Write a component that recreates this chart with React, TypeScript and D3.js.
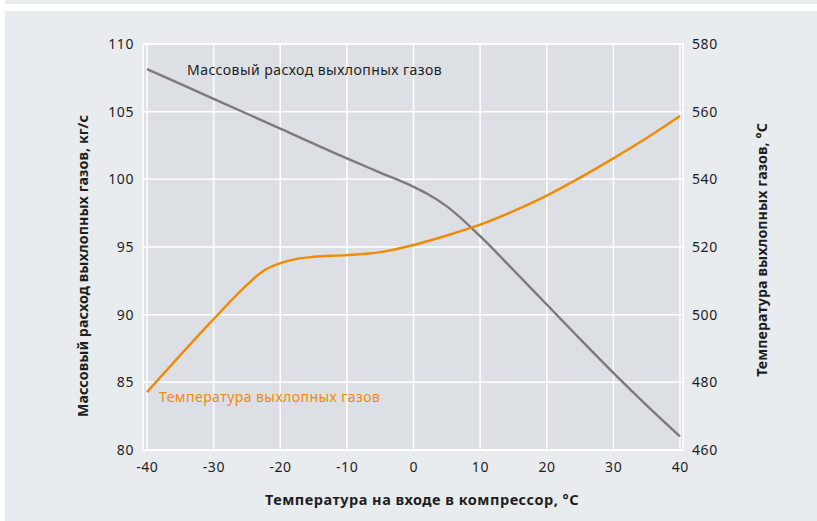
import React from "react";
import * as d3 from "d3";

const xTicks = [-40, -30, -20, -10, 0, 10, 20, 30, 40];
const leftTicks = [80, 85, 90, 95, 100, 105, 110];
const rightTicks = [460, 480, 500, 520, 540, 560, 580];

const massX = [-40, -30, -20, -10, -5, 0, 2, 5, 10, 15, 20, 25, 30, 35, 40];
const massY = [108.15, 105.95, 103.75, 101.55, 100.5, 99.45, 98.95, 98.0, 95.8, 93.3, 90.75, 88.2, 85.7, 83.3, 81.0];

const tempX = [-40, -30, -25, -22.5, -20, -17.5, -15, -10, -5, 0, 5, 10, 15, 20, 25, 30, 35, 40];
const tempY = [477.1, 498.7, 508.8, 513.0, 515.2, 516.5, 517.1, 517.6, 518.5, 520.6, 523.4, 526.6, 530.6, 535.2, 540.5, 546.2, 552.2, 558.7];

const massLabel = "Массовый расход выхлопных газов";
const tempLabel = "Температура выхлопных газов";
const xTitle = "Температура на входе в компрессор, °C";
const leftTitle = "Массовый расход выхлопных газов, кг/с";
const rightTitle = "Температура выхлопных газов, °C";

export default function App() {
  const W = 817, H = 521;
  const plot = { x0: 143, x1: 683, y0: 44, y1: 450 };
  const x = d3.scaleLinear().domain([-40, 40]).range([147, 680]);
  const yL = d3.scaleLinear().domain([80, 110]).range([plot.y1, plot.y0]);
  const yR = d3.scaleLinear().domain([460, 580]).range([plot.y1, plot.y0]);

  const massLine = d3.line<number>().x((d, i) => x(massX[i])).y((d) => yL(d)).curve(d3.curveMonotoneX)(massY) || "";
  const tempLine = d3.line<number>().x((d, i) => x(tempX[i])).y((d) => yR(d)).curve(d3.curveMonotoneX)(tempY) || "";

  const font = "'Noto Sans', 'Open Sans', sans-serif";
  const textColor = "#1e1e1e";
  const orange = "#f28a06";

  return (
    <svg width={W} height={H} style={{ position: "absolute", left: 0, top: 0, display: "block" }} fontFamily={font}>
      <rect x={0} y={0} width={W} height={H} fill="#ffffff" />
      <rect x={5} y={0} width={W - 5} height={4} fill="#e8ecef" />
      <rect x={5} y={11} width={W - 5} height={H - 11} fill="#e8ecef" />
      <rect x={plot.x0} y={plot.y0} width={plot.x1 - plot.x0} height={plot.y1 - plot.y0} fill="#dce0e4" stroke="#ffffff" strokeWidth={1.5} />
      {xTicks.map((t) => (
        <line key={"gx" + t} x1={x(t)} x2={x(t)} y1={plot.y0} y2={plot.y1} stroke="#ffffff" strokeWidth={1.5} />
      ))}
      {leftTicks.map((t) => (
        <line key={"gy" + t} x1={plot.x0} x2={plot.x1} y1={yL(t)} y2={yL(t)} stroke="#ffffff" strokeWidth={1.5} />
      ))}
      <path d={massLine} fill="none" stroke="#7b7b7b" strokeWidth={2.4} />
      <path d={tempLine} fill="none" stroke={orange} strokeWidth={2.4} />
      {xTicks.map((t) => (
        <text key={"tx" + t} x={x(t) + 0.3} y={472} textAnchor="middle" fontSize={14} letterSpacing={0.6} fill={textColor}>{t}</text>
      ))}
      {leftTicks.map((t) => (
        <text key={"tl" + t} x={134} y={yL(t) + 5} textAnchor="end" fontSize={14} letterSpacing={0.6} fill={textColor}>{t}</text>
      ))}
      {rightTicks.map((t) => (
        <text key={"tr" + t} x={692} y={yR(t) + 5} textAnchor="start" fontSize={14} letterSpacing={0.6} fill={textColor}>{t}</text>
      ))}
      <text x={187} y={75} fontSize={14} letterSpacing={0.45} fill={textColor}>{massLabel}</text>
      <text x={159} y={402} fontSize={14} letterSpacing={0.45} fill={orange}>{tempLabel}</text>
      <text x={422} y={505} textAnchor="middle" fontSize={14.5} letterSpacing={0.5} fontWeight={700} fill={textColor}>{xTitle}</text>
      <text transform={`translate(88,${266}) rotate(-90)`} textAnchor="middle" fontSize={14.2} letterSpacing={0.1} fontWeight={700} fill={textColor}>{leftTitle}</text>
      <text transform={`translate(767,${250}) rotate(-90)`} textAnchor="middle" fontSize={14.2} letterSpacing={0.1} fontWeight={700} fill={textColor}>{rightTitle}</text>
    </svg>
  );
}
